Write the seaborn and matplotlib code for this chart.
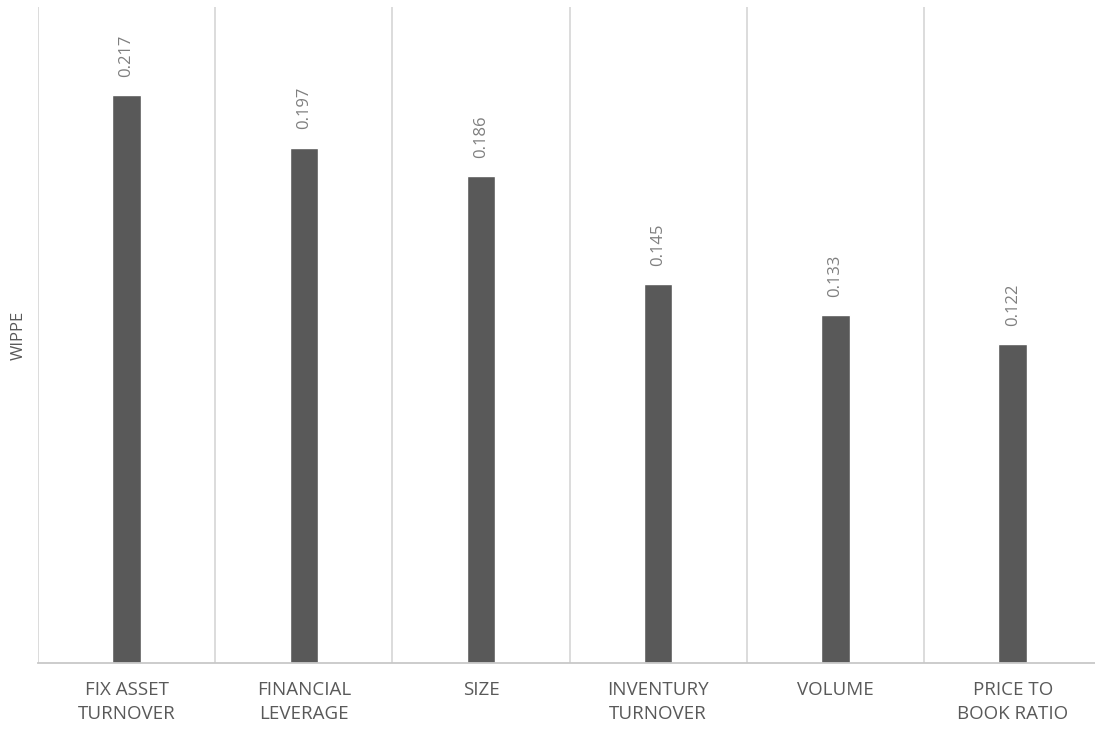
import matplotlib
matplotlib.use("Agg")
import matplotlib.pyplot as plt
import seaborn as sns
import pandas as pd

categories = ["FIX ASSET\nTURNOVER", "FINANCIAL\nLEVERAGE", "SIZE",
              "INVENTURY\nTURNOVER", "VOLUME", "PRICE TO\nBOOK RATIO"]
wippe = [0.217, 0.197, 0.186, 0.145, 0.133, 0.122]
value_labels = ["0.217", "0.197", "0.186", "0.145", "0.133", "0.122"]

sns.set_theme(style="white")
plt.rcParams["font.family"] = ["Open Sans", "DejaVu Sans"]

df = pd.DataFrame({"factor": categories, "WIPPE": wippe})

fig = plt.figure(figsize=(10.95, 7.36), dpi=100)
ax = fig.add_axes([0.0347, 0.0992, 0.971, 0.8913])

sns.barplot(data=df, x="factor", y="WIPPE", color="#595959", width=0.16,
            saturation=1, ax=ax)

ax.set_ylim(0, 0.2507)
ax.set_xlim(-0.5, len(categories) - 0.5)

# vertical separators between categories
for b in range(len(categories)):
    ax.axvline(b - 0.5, color="#d9d9d9", linewidth=1.3, zorder=0)

ax.bar_label(ax.containers[0], labels=value_labels, rotation=90, padding=13,
             fontsize=12, color="#7f7f7f")

ax.set_yticks([])
ax.set_xlabel("")
ax.set_ylabel("WIPPE", fontsize=12, color="#595959", labelpad=8)
ax.tick_params(axis="x", length=0, pad=13, labelsize=13.5, labelcolor="#595959")
for lbl in ax.get_xticklabels():
    lbl.set_linespacing(1.45)

for side in ["top", "right", "left"]:
    ax.spines[side].set_visible(False)
ax.spines["bottom"].set_color("#c8c8c8")
ax.spines["bottom"].set_linewidth(1.3)

fig.savefig("out.png", dpi=100)
